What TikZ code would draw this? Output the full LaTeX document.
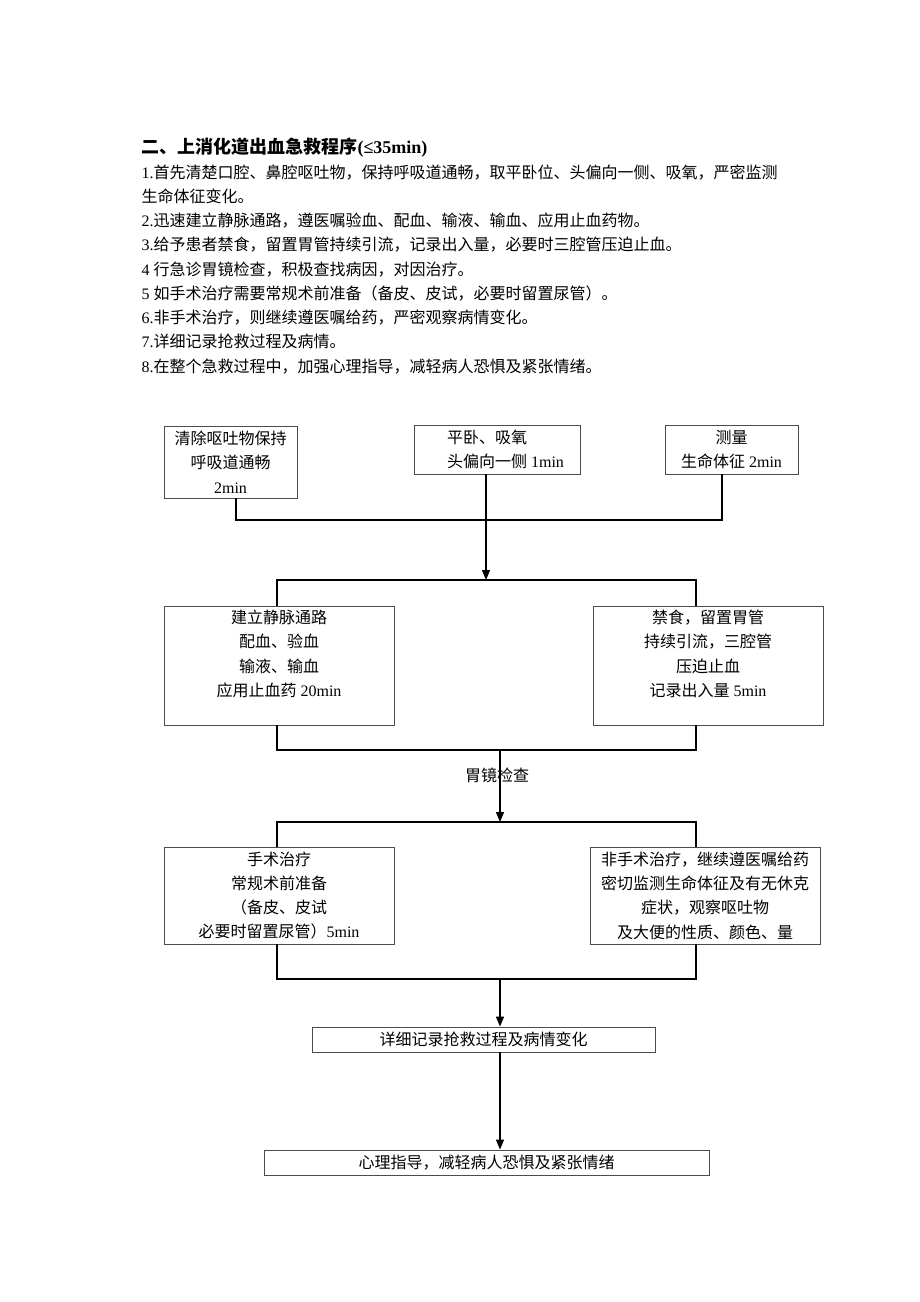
\documentclass[tikz,border=0pt]{standalone}
\usepackage{fontspec}
\setmainfont{Liberation Serif}
\newfontfamily\cjk{Noto Sans CJK SC}
\newfontfamily\lat{Liberation Serif}
\usetikzlibrary{arrows.meta}

\tikzset{
  box/.style={draw=black!70, line width=0.9pt, inner sep=0pt, align=center},
  link/.style={line width=1.3pt},
  arr/.style={link, -{Triangle[length=10pt,width=8pt]}},
}

\begin{document}
\begin{tikzpicture}[x=1pt, y=-1pt, font=\cjk\fontsize{16}{24.3}\selectfont]
        \useasboundingbox (0,0) rectangle (920,1302);
        \node[anchor=base west, font=\cjk\bfseries\fontsize{18}{22}\selectfont] (title) at (138,153)
            {二、上消化道出血急救程序{\lat\bfseries (≤35min)}};
        \foreach \txt [count=\i] in {
            {{\lat 1.}首先清楚口腔、鼻腔呕吐物，保持呼吸道通畅，取平卧位、头偏向一侧、吸氧，严密监测},
            {生命体征变化。},
            {{\lat 2.}迅速建立静脉通路，遵医嘱验血、配血、输液、输血、应用止血药物。},
            {{\lat 3.}给予患者禁食，留置胃管持续引流，记录出入量，必要时三腔管压迫止血。},
            {{\lat 4 }行急诊胃镜检查，积极查找病因，对因治疗。},
            {{\lat 5 }如手术治疗需要常规术前准备（备皮、皮试，必要时留置尿管）。},
            {{\lat 6.}非手术治疗，则继续遵医嘱给药，严密观察病情变化。},
            {{\lat 7.}详细记录抢救过程及病情。},
            {{\lat 8.}在整个急救过程中，加强心理指导，减轻病人恐惧及紧张情绪。}}
          \node[anchor=base west] (line\i) at (138,{178+24.25*(\i-1)}) {\txt};

        % first aid
        \node[box, minimum width=133pt, minimum height=72pt] (a) at (230.5,462) {清除呕吐物保持\\呼吸道通畅\\{\lat 2min}};
        \node[box, align=left, minimum width=166pt, minimum height=49pt] (b) at (497,449.5)
            {\hspace*{17pt}平卧、吸氧\\\hspace*{17pt}头偏向一侧{\lat\ 1min}};
        \node[box, minimum width=133pt, minimum height=49pt] (c) at (731.5,449.5) {测量\\生命体征{\lat\ 2min}};
        % treatment
        \node[box, minimum width=230pt, minimum height=119pt] (d) at (279,665.5)
            {建立静脉通路\\配血、验血\\输液、输血\\应用止血药{\lat\ 20min}\\\mbox{}};
        \node[box, minimum width=230pt, minimum height=119pt] (e) at (708,665.5)
            {禁食，留置胃管\\持续引流，三腔管\\压迫止血\\记录出入量{\lat\ 5min}\\\mbox{}};
        \node[box, minimum width=230pt, minimum height=97pt] (f) at (279,895.5)
            {手术治疗\\常规术前准备\\（备皮、皮试\\必要时留置尿管）{\lat 5min}};
        \node[box, minimum width=230pt, minimum height=97pt] (g) at (705,895.5)
            {非手术治疗，继续遵医嘱给药\\密切监测生命体征及有无休克\\症状，观察呕吐物\\及大便的性质、颜色、量};
        \node[box, minimum width=343pt, minimum height=25pt] (h) at (483.5,1039.5) {详细记录抢救过程及病情变化};
        \node[box, minimum width=445pt, minimum height=25pt] (i) at (486.5,1162.5) {心理指导，减轻病人恐惧及紧张情绪};

        \coordinate (j1) at (486,520);
        \coordinate (j2) at (486,580);
        \coordinate (j3) at (500,750);
        \coordinate (j4) at (500,822);
        \coordinate (j5) at (500,979);

        \draw[link] ([xshift=5.5]a.south) |- (j1) -| ([xshift=-9.5]c.south);
        \draw[arr] ([xshift=-11]b.south) -- (j2);
        \draw[link] ([xshift=-2]d.north) |- (j2) -| ([xshift=-12]e.north);
        \draw[link] ([xshift=-2]d.south) |- (j3) -| ([xshift=-12]e.south);
        \draw[arr] (j3) -- node[pos=0.35, xshift=-3] (endo) {胃镜检查} (j4);
        \draw[link] ([xshift=-2]f.north) |- (j4) -| ([xshift=-9]g.north);
        \draw[link] ([xshift=-2]f.south) |- (j5) -| ([xshift=-9]g.south);
        \draw[arr] (j5) -- (j5 |- h.north);
        \draw[arr] (h.south -| j5) -- (i.north -| j5);
\end{tikzpicture}
\end{document}
